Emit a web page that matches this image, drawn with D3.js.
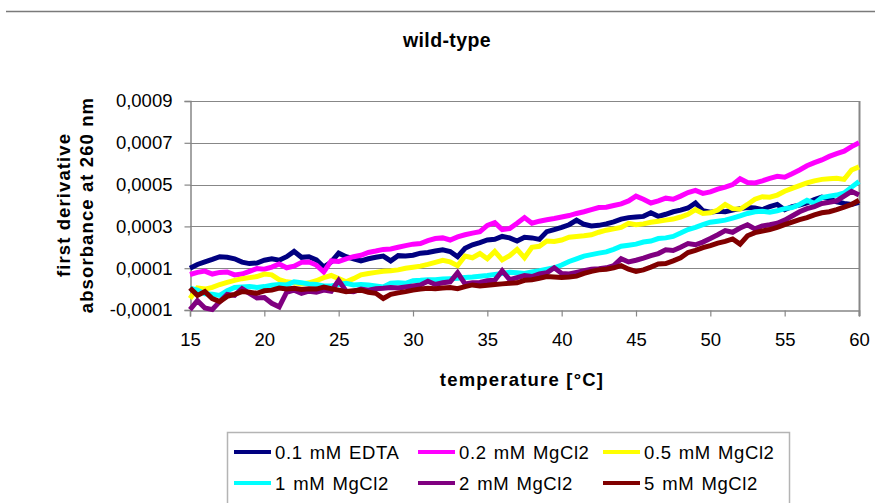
<!DOCTYPE html>
<html>
<head>
<meta charset="utf-8">
<script src="https://cdn.jsdelivr.net/npm/d3@7"></script>
<style>
  body { margin: 0; background: #fff; }
  svg { display: block; font-family: "Liberation Sans", Arial, sans-serif; }
</style>
</head>
<body>
<svg id="chart" width="875" height="503"></svg>
<script>
// Melting curves: first derivative of A260 vs temperature, wild-type construct.
// Series values are given in units of 1e-4 absorbance per °C.
const valueUnit = 1e-4;
const temperatures = d3.range(15, 60.001, 0.5);

const seriesNames = ["0.1 mM EDTA", "0.2 mM MgCl2", "0.5 mM MgCl2", "1 mM MgCl2", "2 mM MgCl2", "5 mM MgCl2"];
const seriesColors = ["#000080", "#ff00ff", "#ffff00", "#00ffff", "#800080", "#800000"];

const edta = [1.00,1.18,1.30,1.42,1.55,1.52,1.45,1.29,1.22,1.25,1.38,1.45,1.38,1.55,1.80,1.52,1.55,1.40,1.05,1.30,
  1.72,1.55,1.45,1.35,1.45,1.52,1.58,1.35,1.60,1.58,1.62,1.72,1.75,1.82,1.88,1.80,1.55,1.95,2.12,2.22,
  2.35,2.38,2.52,2.45,2.30,2.48,2.45,2.38,2.75,2.85,2.95,3.08,3.30,3.10,3.02,3.05,3.12,3.22,3.35,3.42,
  3.45,3.48,3.65,3.48,3.58,3.70,3.78,3.88,4.12,3.75,3.68,3.72,3.70,3.78,3.85,3.90,3.88,3.80,3.95,4.05,
  3.80,3.95,4.02,4.12,4.28,4.40,4.32,4.18,4.10,4.05,4.15];
const mg02 = [0.70,0.80,0.86,0.72,0.80,0.82,0.68,0.72,0.85,0.98,0.95,1.05,1.20,1.02,1.10,1.28,1.30,1.15,0.82,1.35,
  1.32,1.45,1.55,1.62,1.75,1.82,1.90,1.92,2.00,2.08,2.15,2.18,2.32,2.42,2.45,2.35,2.50,2.60,2.68,2.75,
  3.05,3.18,2.85,2.90,3.15,3.42,3.15,3.25,3.32,3.38,3.45,3.52,3.62,3.70,3.80,3.90,3.92,4.00,4.08,4.22,
  4.45,4.30,4.12,4.22,4.35,4.30,4.45,4.62,4.72,4.58,4.65,4.78,4.88,5.00,5.28,5.10,5.08,5.18,5.30,5.40,
  5.35,5.52,5.70,5.90,6.05,6.18,6.35,6.48,6.60,6.82,7.00];
const mg05 = [-0.45,0.05,0.00,0.08,0.22,0.32,0.42,0.50,0.55,0.60,0.72,0.68,0.45,0.35,0.30,0.25,0.30,0.40,0.55,0.65,
  0.50,0.35,0.50,0.68,0.75,0.80,0.85,0.88,0.92,1.00,1.05,1.10,1.18,1.28,1.38,1.30,1.12,1.58,1.50,1.70,
  1.45,1.80,1.40,1.60,1.90,1.50,2.00,2.05,2.30,2.28,2.35,2.48,2.52,2.55,2.60,2.72,2.82,2.88,2.95,3.15,
  3.08,3.12,3.20,3.25,3.30,3.35,3.45,3.58,3.80,3.62,3.65,3.78,4.05,3.85,3.82,4.05,4.30,4.42,4.40,4.50,
  4.68,4.82,4.95,5.08,5.18,5.25,5.28,5.30,5.25,5.70,5.85];
const mg1 = [0.05,-0.05,-0.22,-0.25,-0.30,-0.08,0.08,0.10,0.12,0.08,0.12,0.18,0.22,0.20,0.35,0.30,0.25,0.22,0.15,0.15,
  0.22,0.28,0.20,0.22,0.20,0.15,0.10,0.28,0.30,0.28,0.40,0.42,0.45,0.45,0.48,0.50,0.52,0.55,0.58,0.62,
  0.65,0.70,0.75,0.80,0.78,0.75,0.82,0.88,0.95,1.02,1.15,1.32,1.45,1.58,1.65,1.72,1.78,1.90,2.05,2.10,
  2.15,2.25,2.30,2.42,2.45,2.52,2.68,2.85,2.95,3.08,3.20,3.25,3.30,3.40,3.50,3.62,3.70,3.72,3.68,3.75,
  3.85,3.90,4.05,4.25,4.10,4.38,4.45,4.50,4.60,4.88,5.15];
const mg2 = [-0.98,-0.55,-0.90,-0.98,-0.60,-0.25,-0.30,0.02,-0.20,-0.42,-0.40,-0.68,-0.85,-0.15,-0.05,-0.20,-0.10,-0.15,-0.05,-0.10,
  0.42,-0.10,-0.12,0.00,-0.05,0.02,0.04,0.08,0.05,0.10,0.15,0.20,0.38,0.22,0.30,0.35,0.78,0.25,0.30,0.32,
  0.40,0.42,0.88,0.45,0.55,0.65,0.60,0.72,0.78,1.02,0.75,0.72,0.80,0.88,0.95,0.98,1.02,1.12,1.45,1.30,
  1.38,1.48,1.60,1.70,1.88,1.85,2.00,2.18,2.12,2.25,2.42,2.60,2.80,2.72,2.92,3.08,2.88,3.02,3.08,3.15,
  3.30,3.50,3.70,3.85,3.95,4.10,4.15,4.22,4.45,4.68,4.50];
const mg5 = [0.05,-0.30,-0.12,-0.45,-0.60,-0.35,-0.25,-0.12,-0.15,-0.20,-0.08,-0.05,0.05,0.00,0.04,-0.02,0.02,0.00,0.10,0.02,
  -0.05,-0.12,-0.08,-0.05,-0.15,-0.20,-0.45,-0.25,-0.18,-0.12,-0.05,0.00,0.04,0.02,0.05,0.08,0.02,0.12,0.20,0.15,
  0.18,0.22,0.25,0.28,0.30,0.42,0.45,0.52,0.60,0.58,0.55,0.58,0.62,0.75,0.85,0.92,0.95,1.02,1.12,0.95,
  0.85,0.92,1.05,1.20,1.22,1.35,1.50,1.75,1.85,1.98,2.08,2.20,2.28,2.40,2.15,2.55,2.70,2.78,2.85,2.95,
  3.08,3.20,3.32,3.42,3.55,3.65,3.70,3.80,3.92,4.05,4.25];

const seriesValues = [edta, mg02, mg05, mg1, mg2, mg5];

const xTicks = [15, 20, 25, 30, 35, 40, 45, 50, 55, 60];
const yTicks = [-0.0001, 0.0001, 0.0003, 0.0005, 0.0007, 0.0009];

const titleText = "wild-type";
const xTitle = "temperature [°C]";
const yTitleLines = ["first derivative", "absorbance at 260 nm"];

// ---- layout ----
const svg = d3.select("#chart");
const plot = { left: 190, right: 859, top: 101, bottom: 310 };
const gridColor = "#878787";
const fontSize = 18.5;

const x = d3.scaleLinear().domain([15, 60]).range([plot.left, plot.right]);
const y = d3.scaleLinear().domain([-0.0001, 0.0009]).range([plot.bottom, plot.top]);

const locale = d3.formatLocale({ decimal: ",", thousands: ".", grouping: [3], currency: ["", ""], minus: "-" });
const yFmt = locale.format(".4f");

// top rule
svg.append("line").attr("x1", 6).attr("x2", 875).attr("y1", 11.5).attr("y2", 11.5)
  .attr("stroke", "#7a7a7a").attr("stroke-width", 1.5);

// title
svg.append("text").attr("x", 447).attr("y", 47).attr("text-anchor", "middle")
  .attr("font-size", 19.5).attr("font-weight", "bold").attr("letter-spacing", 0.4).text(titleText);

// horizontal gridlines
svg.append("g").selectAll("line").data(yTicks.slice(1)).join("line")
  .attr("x1", plot.left).attr("x2", plot.right)
  .attr("y1", d => Math.round(y(d)) + 0.5).attr("y2", d => Math.round(y(d)) + 0.5)
  .attr("stroke", gridColor).attr("stroke-width", 1.2);

// right border
svg.append("line").attr("x1", plot.right + 0.5).attr("x2", plot.right + 0.5)
  .attr("y1", plot.top).attr("y2", plot.bottom + 6)
  .attr("stroke", gridColor).attr("stroke-width", 2);

// axes
const xAxis = d3.axisBottom(x).tickValues(xTicks).tickSize(6).tickPadding(16).tickFormat(d3.format("d"));
const yAxis = d3.axisLeft(y).tickValues(yTicks).tickSize(6).tickPadding(12).tickFormat(yFmt);

const gx = svg.append("g").attr("transform", `translate(0,${plot.bottom + 0.5})`).call(xAxis);
const gy = svg.append("g").attr("transform", `translate(${plot.left + 0.5},0)`).call(yAxis);
[gx, gy].forEach(g => {
  g.select(".domain").attr("stroke", gridColor).attr("stroke-width", 1.5);
  g.selectAll(".tick line").attr("stroke", gridColor).attr("stroke-width", 1.2);
  g.selectAll(".tick text").attr("fill", "#000").attr("font-size", fontSize)
    .attr("font-family", "'Liberation Sans', Arial, sans-serif");
});

// series lines
const line = d3.line()
  .x((d, i) => x(temperatures[i]))
  .y(d => y(d * valueUnit))
  .curve(d3.curveLinear);

svg.append("g").selectAll("path").data(seriesValues).join("path")
  .attr("d", d => line(d))
  .attr("fill", "none")
  .attr("stroke", (d, i) => seriesColors[i])
  .attr("stroke-width", 5)
  .attr("stroke-linejoin", "miter")
  .attr("stroke-miterlimit", 2);

// axis titles
svg.append("text").attr("x", 522).attr("y", 386)
  .attr("text-anchor", "middle").attr("font-size", fontSize).attr("font-weight", "bold")
  .attr("letter-spacing", 1.2).text(xTitle);

const yt = svg.append("text").attr("transform", "translate(0,205) rotate(-90)")
  .attr("text-anchor", "middle").attr("font-size", fontSize).attr("font-weight", "bold")
  .attr("letter-spacing", 1.1);
yt.selectAll("tspan").data(yTitleLines).join("tspan")
  .attr("x", 0).attr("y", (d, i) => 70 + i * 23).text(d => d);

// legend
const legend = svg.append("g");
legend.append("rect").attr("x", 227.5).attr("y", 432.5).attr("width", 562).attr("height", 90)
  .attr("fill", "#fff").attr("stroke", "#b4b4b4").attr("stroke-width", 1.5);

const colX = [234, 418, 603];
const rowY = [452, 483];
const items = legend.selectAll("g.item").data(seriesNames).join("g").attr("class", "item")
  .attr("transform", (d, i) => `translate(${colX[i % 3]},${rowY[Math.floor(i / 3)]})`);
items.append("line").attr("x1", 0).attr("x2", 37).attr("y1", 0).attr("y2", 0)
  .attr("stroke", (d, i) => seriesColors[i]).attr("stroke-width", 4);
items.append("text").attr("x", 41).attr("y", 6.5).attr("font-size", fontSize)
  .attr("letter-spacing", 0.6).attr("word-spacing", 1.5).text(d => d);
</script>
</body>
</html>
